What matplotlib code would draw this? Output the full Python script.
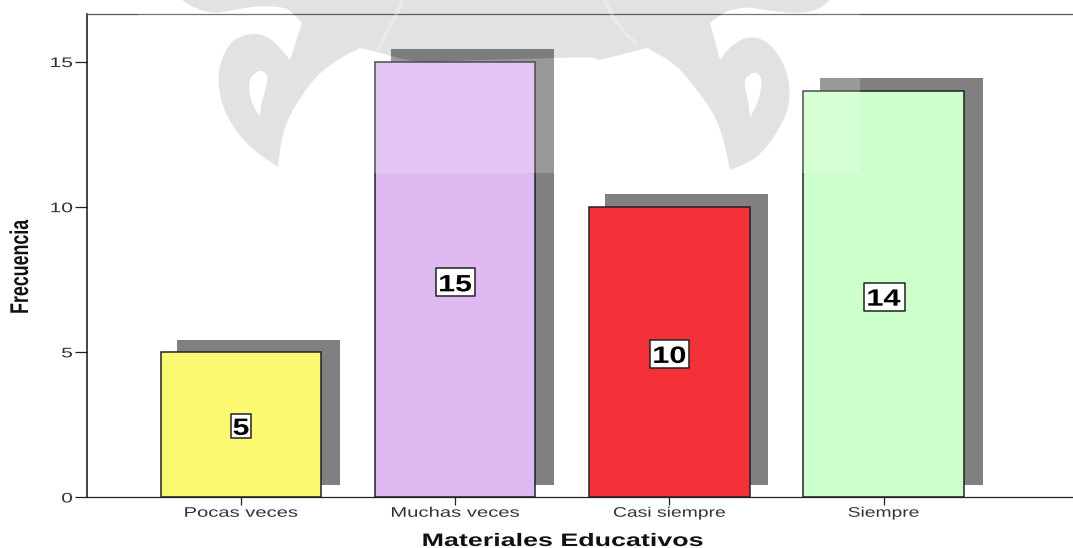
import numpy as np
import matplotlib
matplotlib.use("Agg")
import matplotlib.pyplot as plt
from matplotlib.path import Path
from matplotlib.patches import PathPatch
from matplotlib.patheffects import AbstractPathEffect
from matplotlib.transforms import Affine2D

categories = ["Pocas veces", "Muchas veces", "Casi siempre", "Siempre"]
values = [5, 15, 10, 14]
bar_colors = ["#FBF872", "#DEB9F2", "#F43138", "#CCFFCC"]
y_ticks = [0, 5, 10, 15]
x_title = "Materiales Educativos"
y_title = "Frecuencia"

W, H = 1073, 548
plt.rcParams["font.family"] = ["Liberation Sans", "DejaVu Sans"]


class Stretch(AbstractPathEffect):
    """Fits drawn text to a given pixel length along its own direction."""
    def __init__(self, target_px, anchor="center"):
        super().__init__()
        self.target = target_px
        self.anchor = anchor

    def draw_path(self, renderer, gc, tpath, affine, rgbFace=None):
        ext = tpath.get_extents()
        m = affine.get_matrix()
        k = self.target / (ext.width * np.hypot(m[0, 0], m[1, 0]))
        cx = ext.x1 if self.anchor == "right" else (ext.x0 + ext.x1) / 2
        local = Affine2D().translate(-cx, 0).scale(k, 1).translate(cx, 0)
        renderer.draw_path(gc, tpath, local + affine, rgbFace)


fig = plt.figure(figsize=(W / 100, H / 100), dpi=100, facecolor="white")
ax = fig.add_axes([86.5 / W, 1 - 497 / H, (W - 86.5) / W, 483 / H])
ax.set_ylim(0, 483 / 29.03)
ax.set_xlim((86.5 - 241) / 214.2, (W - 241) / 214.2)
x = np.arange(len(categories))

shadow = Affine2D().translate(17.5, 12.3)
ax.bar(x, values, width=163 / 214.2, color="#808080", linewidth=0,
       transform=ax.transData + shadow, zorder=1)
ax.bar(x, values, width=160.5 / 214.2, color=bar_colors, edgecolor="#222222",
       linewidth=1.1, zorder=2)

label_fracs = [0.49, 0.493, 0.493, 0.493]
box_w = [24, 39, 39, 41]
text_w = [15, 31, 31, 32]
for xi, v, f, bw, tw in zip(x, values, label_fracs, box_w, text_w):
    r = 28.5 / bw
    marker = Path([(-1, -r), (1, -r), (1, r), (-1, r), (-1, -r)], closed=True)
    ax.plot([xi], [v * f], marker=marker, ms=bw * 0.72, mfc="white", mec="#222222",
            mew=1.1, ls="none", zorder=3, clip_on=False)
    ax.text(xi, v * f, str(v), ha="center", va="center_baseline", fontsize=17,
            fontweight="bold", color="black", zorder=4,
            path_effects=[Stretch(tw)])

ax.spines["right"].set_visible(False)
ax.spines["top"].set_color("#555555")
ax.spines["top"].set_linewidth(0.9)
ax.spines["left"].set_color("#111111")
ax.spines["left"].set_linewidth(1.1)
ax.spines["bottom"].set_color("#222222")
ax.spines["bottom"].set_linewidth(0.9)

ax.set_yticks(y_ticks)
ax.set_yticklabels([str(t) for t in y_ticks], fontsize=10, color="#333333")
ax.tick_params(axis="y", length=8.5, width=0.9, color="#222222", pad=1.5)
ax.set_xticks(x)
ax.set_xticklabels(categories, fontsize=10, color="#333333")
ax.tick_params(axis="x", length=5.5, width=0.9, color="#222222", pad=0.8)
for lab, w in zip(ax.get_xticklabels(), [112, 127, 111, 70]):
    lab.set_path_effects([Stretch(w)])
for lab, t in zip(ax.get_yticklabels(), y_ticks):
    lab.set_path_effects([Stretch(21 if t >= 10 else 10, anchor="right")])

ax.set_xlabel(x_title, fontsize=13, fontweight="bold", color="#111111",
              path_effects=[Stretch(279)], va="center")
ax.xaxis.set_label_coords((562.5 - 86.5) / (W - 86.5), (497 - 541.5) / 483)
ax.set_ylabel(y_title, fontsize=18.5, fontweight="bold", color="#111111",
              path_effects=[Stretch(93)], va="center")
ax.yaxis.set_label_coords((21 - 86.5) / (W - 86.5), (497 - 267) / 483)

# Translucent watermark laid over the top of the picture (pixel coordinates)
shape = [(180, -2), (186, 3), (195, 8), (207, 12), (220, 13), (233, 10), (250, 7), (267, 6), (280, 7), (290, 10),
         (302, 23), (290, 60), (282, 50), (270, 38), (257, 33), (245, 35), (233, 40), (224, 53), (218, 73),
         (219, 90), (223, 107), (232, 125), (243, 140), (260, 155), (278, 167), (280, 150), (283, 133),
         (289, 117), (297, 103), (309, 85), (323, 70), (342, 57), (360, 48), (378, 52), (398, 58), (418, 62),
         (480, 60), (553, 58), (593, 57), (598, 60), (612, 57), (627, 53), (647, 48), (660, 55), (673, 63),
         (686, 76), (697, 90), (708, 105), (717, 120), (725, 145), (730, 170), (745, 164), (757, 157),
         (770, 143), (780, 127), (788, 110), (790, 93), (788, 75), (780, 57), (770, 44), (757, 37),
         (745, 38), (737, 42), (727, 50), (720, 60), (710, 23), (720, 15), (730, 10), (747, 7), (765, 10),
         (780, 12), (795, 13), (810, 12), (822, 7), (832, -2)]
corners = {(180, -2), (302, 23), (290, 60), (278, 167), (360, 48), (598, 60), (647, 48),
           (730, 170), (720, 60), (710, 23), (832, -2)}
hole_left = [(260, 70), (266, 73), (268, 78), (265, 92), (261, 104), (260, 117), (254, 108), (250, 97), (249, 85), (251, 76)]
hole_right = [(753, 72), (759, 74), (762, 80), (760, 95), (756, 107), (750, 117), (748, 100), (743, 80)]
rect = [(138, -2), (860, -2), (860, 173), (138, 173)]


def smooth(poly, keep=(), rounds=2):
    pts = [(tuple(p), tuple(p) in keep) for p in poly]
    for _ in range(rounds):
        new = []
        n = len(pts)
        for i, (p, fixed) in enumerate(pts):
            if fixed:
                new.append((p, True))
                continue
            a = np.array(pts[i - 1][0], float)
            b = np.array(p, float)
            c = np.array(pts[(i + 1) % n][0], float)
            new.append((tuple(0.75 * b + 0.25 * a), False))
            new.append((tuple(0.75 * b + 0.25 * c), False))
        pts = new
    return [p for p, _ in pts]


def oriented(poly, ccw=True):
    p = np.array(poly, float)
    area = 0.5 * np.sum(p[:, 0] * np.roll(p[:, 1], -1) - np.roll(p[:, 0], -1) * p[:, 1])
    return p if (area > 0) == ccw else p[::-1]


def compound(polys):
    verts, codes = [], []
    for poly, ccw in polys:
        p = oriented(poly, ccw)
        verts += list(map(tuple, p)) + [tuple(p[0])]
        codes += [Path.MOVETO] + [Path.LINETO] * (len(p) - 1) + [Path.CLOSEPOLY]
    return Path(verts, codes)


shape_s = smooth(shape, corners)
hl = smooth(hole_left, {(260, 117)})
hr = smooth(hole_right, {(750, 117)})
px = Affine2D().scale(1, -1).translate(0, H)
fig.add_artist(PathPatch(compound([(rect, True), (shape_s, False), (hl, True), (hr, True)]),
                         facecolor="white", alpha=0.2, linewidth=0, transform=px, zorder=5))
fig.add_artist(PathPatch(compound([(shape_s, True), (hl, False), (hr, False)]),
                         facecolor="#6E6E6E", alpha=0.2, linewidth=0, transform=px, zorder=5))
for pts in ([(404, -2), (396, 15), (385, 35), (379, 49)],
            [(604, -2), (612, 15), (624, 32), (635, 42)]):
    p = np.array(pts)
    fig.add_artist(plt.Line2D(p[:, 0], p[:, 1], color="white", alpha=0.3, lw=2.5,
                              transform=px, zorder=6))

fig.savefig("out.png", dpi=100)
